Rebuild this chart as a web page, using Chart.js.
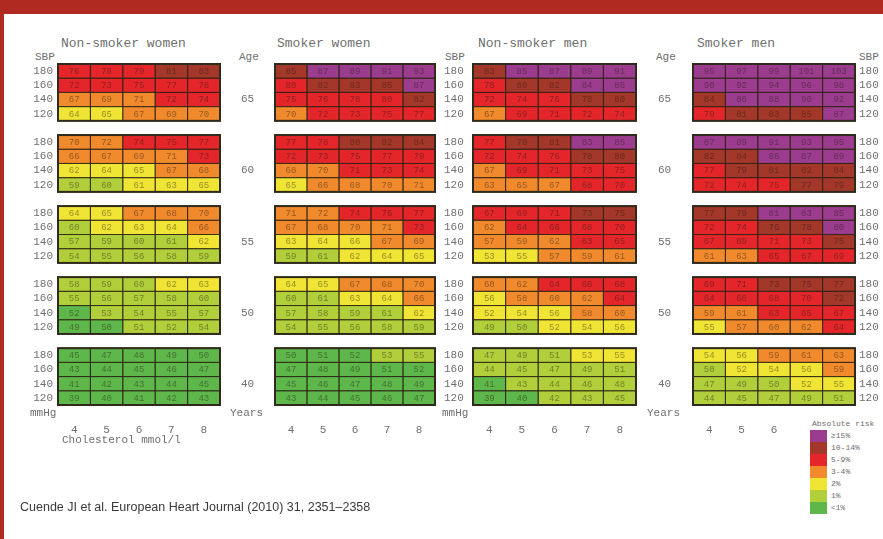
<!DOCTYPE html>
<html>
<head>
<meta charset="utf-8">
<title>Heart age chart</title>
<script src="https://cdn.jsdelivr.net/npm/chart.js@4.4.1/dist/chart.umd.min.js"></script>
<style>
  html, body { margin: 0; padding: 0; background: #fff; }
  #page { position: relative; width: 883px; height: 539px; overflow: hidden; font-family: "Liberation Mono", "DejaVu Sans Mono", monospace; color: #6e6e6e; }
  #banner { position: absolute; left: 0; top: 0; width: 883px; height: 14px; background: #b12a21; }
  #edge { position: absolute; left: 0; top: 0; width: 4px; height: 539px; background: #b12a21; }
  .box { position: absolute; top: 54px; height: 406px; }
  .txt { position: absolute; white-space: nowrap; transform: translateY(-50%); }
  .title { font-size: 13px; }
  .small { font-size: 11px; }
  #legend { position: absolute; left: 800px; top: 416px; width: 86px; height: 100px; background: #fff; }
  #legend .head { position: absolute; left: 12px; top: 3px; font-size: 8px; white-space: nowrap; }
  #legend .row { position: absolute; left: 10px; height: 12px; width: 80px; }
  #legend .sw { position: absolute; left: 0; top: 0; width: 17px; height: 12px; }
  #legend .lab { position: absolute; left: 21px; top: 1px; font-size: 8px; }
  #source { position: absolute; left: 20px; top: 500px; font: 12.5px "Liberation Sans", Arial, sans-serif; color: #3a3a3a; white-space: nowrap; }
</style>
</head>
<body>
<div id="page">
  <div id="banner"></div>
  <div id="edge"></div>

  <div class="txt title" style="left:61px;top:43px">Non-smoker women</div>
  <div class="txt title" style="left:277px;top:43px">Smoker women</div>
  <div class="txt title" style="left:478px;top:43px">Non-smoker men</div>
  <div class="txt title" style="left:697px;top:43px">Smoker men</div>

  <div class="txt small" style="left:35px;top:57px">SBP</div>
  <div class="txt small" style="left:239px;top:57px">Age</div>
  <div class="txt small" style="left:445px;top:57px">SBP</div>
  <div class="txt small" style="left:656px;top:57px">Age</div>
  <div class="txt small" style="left:859px;top:57px">SBP</div>

  <div class="box" style="left:18px;width:242px"><canvas id="p1"></canvas></div>
  <div class="box" style="left:235px;width:240px"><canvas id="p2"></canvas></div>
  <div class="box" style="left:433px;width:243px"><canvas id="p3"></canvas></div>
  <div class="box" style="left:653px;width:242px"><canvas id="p4"></canvas></div>

  <div class="txt small" style="left:30px;top:413px">mmHg</div>
  <div class="txt small" style="left:230px;top:413px">Years</div>
  <div class="txt small" style="left:442px;top:413px">mmHg</div>
  <div class="txt small" style="left:647px;top:413px">Years</div>
  <div class="txt small" style="left:62px;top:440px">Cholesterol mmol/l</div>

  <div id="legend"></div>
  <div id="source">Cuende JI et al. European Heart Journal (2010) 31, 2351–2358</div>
</div>

<script>
const cholesterol = ['4', '5', '6', '7', '8'];
const sbpLevels = ['180', '160', '140', '120'];
const ageGroups = ['65', '60', '55', '50', '40'];
const riskBands = ['≥15%', '10-14%', '5-9%', '3-4%', '2%', '1%', '<1%'];
const riskColors = ['#9b3c8e', '#a3372a', '#e4262b', '#f08a2d', '#f0e534', '#b1cf3a', '#5db74a'];

// risk band index per cell (0 = >=15% ... 6 = <1%), rows SBP 180..120, columns chol 4..8
const nonSmokerWomenRisk = [
  [[2,2,2,1,1],[2,2,2,2,2],[3,3,3,2,2],[4,4,3,3,3]],
  [[3,3,2,2,2],[3,3,3,3,2],[4,4,4,3,3],[5,5,4,4,4]],
  [[4,4,3,3,3],[5,4,4,4,3],[5,5,5,5,4],[5,5,5,5,5]],
  [[5,5,5,4,4],[5,5,5,5,5],[6,5,5,5,5],[6,6,5,5,5]],
  [[6,6,6,6,6],[6,6,6,6,6],[6,6,6,6,6],[6,6,6,6,6]]
];
const nonSmokerWomenAge = [
  [[76,78,79,81,83],[72,73,75,77,78],[67,69,71,72,74],[64,65,67,69,70]],
  [[70,72,74,75,77],[66,67,69,71,73],[62,64,65,67,68],[59,60,61,63,65]],
  [[64,65,67,68,70],[60,62,63,64,66],[57,59,60,61,62],[54,55,56,58,59]],
  [[58,59,60,62,63],[55,56,57,58,60],[52,53,54,55,57],[49,50,51,52,54]],
  [[45,47,48,49,50],[43,44,45,46,47],[41,42,43,44,45],[39,40,41,42,43]]
];

const smokerWomenRisk = [
  [[1,0,0,0,0],[2,1,1,1,0],[2,2,2,2,1],[3,2,2,2,2]],
  [[2,2,1,1,1],[2,2,2,2,2],[3,3,2,2,2],[4,3,3,3,3]],
  [[3,3,2,2,2],[3,3,3,3,2],[4,4,4,3,3],[5,5,4,4,4]],
  [[4,4,3,3,3],[5,5,4,4,3],[5,5,5,5,4],[5,5,5,5,5]],
  [[6,6,6,5,5],[6,6,6,6,6],[6,6,6,6,6],[6,6,6,6,6]]
];
const smokerWomenAge = [
  [[85,87,89,91,93],[80,82,83,85,87],[75,76,78,80,82],[70,72,73,75,77]],
  [[77,78,80,82,84],[72,73,75,77,79],[68,70,71,73,74],[65,66,68,70,71]],
  [[71,72,74,76,77],[67,68,70,71,73],[63,64,66,67,69],[59,61,62,64,65]],
  [[64,65,67,68,70],[60,61,63,64,66],[57,58,59,61,62],[54,55,56,58,59]],
  [[50,51,52,53,55],[47,48,49,51,52],[45,46,47,48,49],[43,44,45,46,47]]
];

const nonSmokerMenRisk = [
  [[1,0,0,0,0],[2,1,1,0,0],[2,2,2,1,1],[3,2,2,2,2]],
  [[2,1,1,0,0],[2,2,2,1,1],[3,2,2,2,2],[3,3,3,2,2]],
  [[2,2,2,1,1],[3,2,2,2,2],[3,3,3,2,2],[4,4,3,3,3]],
  [[3,3,2,2,2],[4,3,3,3,2],[4,4,4,3,3],[5,5,4,4,4]],
  [[5,5,5,4,4],[5,5,5,5,5],[6,5,5,5,5],[6,6,5,5,5]]
];
const nonSmokerMenAge = [
  [[83,85,87,89,91],[78,80,82,84,86],[72,74,76,78,80],[67,69,71,72,74]],
  [[77,79,81,83,85],[72,74,76,78,80],[67,69,71,73,75],[63,65,67,68,70]],
  [[67,69,71,73,75],[62,64,66,68,70],[57,59,62,63,65],[53,55,57,59,61]],
  [[60,62,64,66,68],[56,58,60,62,64],[52,54,56,58,60],[49,50,52,54,56]],
  [[47,49,51,53,55],[44,45,47,49,51],[41,43,44,46,48],[39,40,42,43,45]]
];

const smokerMenRisk = [
  [[0,0,0,0,0],[0,0,0,0,0],[1,0,0,0,0],[2,1,1,1,0]],
  [[0,0,0,0,0],[1,1,0,0,0],[2,1,1,1,1],[2,2,2,1,1]],
  [[1,1,0,0,0],[2,2,1,1,0],[2,2,2,2,1],[3,3,2,2,2]],
  [[2,2,1,1,1],[2,2,2,2,1],[3,3,2,2,2],[4,3,3,3,2]],
  [[4,4,3,3,3],[5,4,4,4,3],[5,5,5,4,4],[5,5,5,5,5]]
];
const smokerMenAge = [
  [[95,97,99,101,103],[90,92,94,96,98],[84,86,88,90,92],[79,81,83,85,87]],
  [[87,89,91,93,95],[82,84,86,87,89],[77,79,81,82,84],[72,74,75,77,79]],
  [[77,79,81,83,85],[72,74,76,78,80],[67,69,71,73,75],[61,63,65,67,69]],
  [[69,71,73,75,77],[64,66,68,70,72],[59,61,63,65,67],[55,57,60,62,64]],
  [[54,56,59,61,63],[50,52,54,56,59],[47,49,50,52,55],[44,45,47,49,51]]
];

Chart.defaults.font.family = '"Liberation Mono", monospace';
Chart.defaults.color = '#707070';

// grid lines, block outlines and heart-age numbers
const cellPlugin = {
  id: 'cells',
  afterDatasetsDraw(chart) {
    const ctx = chart.ctx;
    const xs = chart.scales.x;
    ctx.save();
    ctx.font = '9px "Liberation Mono"';
    ctx.textAlign = 'center';
    ctx.textBaseline = 'middle';
    chart.data.datasets.forEach((ds, di) => {
      chart.getDatasetMeta(di).data.forEach((bar, i) => {
        if (ds.data[i] == null) return;
        const left = Math.min(bar.x, bar.base), right = Math.max(bar.x, bar.base);
        const top = bar.y - bar.height / 2;
        ctx.strokeStyle = 'rgba(45,35,20,0.75)';
        ctx.lineWidth = 1;
        ctx.strokeRect(left, top, right - left, bar.height);
        ctx.fillStyle = 'rgba(35,25,15,0.45)';
        ctx.fillText(ds.heartAges[i], (left + right) / 2, bar.y + 0.5);
      });
    });
    const meta = chart.getDatasetMeta(0).data;
    ageGroups.forEach((a, b) => {
      const first = meta[b * 5], last = meta[b * 5 + 3];
      const top = first.y - first.height / 2;
      const bottom = last.y + last.height / 2;
      const left = xs.getPixelForValue(0), right = xs.getPixelForValue(cholesterol.length);
      ctx.strokeStyle = '#2f2a1c';
      ctx.lineWidth = 2;
      ctx.strokeRect(left, top, right - left, bottom - top);
    });
    ctx.restore();
  }
};

function fixSize(w, h) {
  return s => {
    if (w != null) s.width = w;
    if (h != null) s.height = h;
    s.paddingTop = 0; s.paddingBottom = 0; s.paddingLeft = 0; s.paddingRight = 0;
  };
}

function buildPanel(id, risk, heartAge, opts) {
  const rowLabels = [], ageLabels = [], cellRisk = [], cellAge = [];
  ageGroups.forEach((age, b) => {
    sbpLevels.forEach((s, r) => {
      rowLabels.push(s);
      ageLabels.push(r === 2 ? age : '');
      cellRisk.push(risk[b][r]);
      cellAge.push(heartAge[b][r]);
    });
    if (b < ageGroups.length - 1) {
      rowLabels.push(''); ageLabels.push(''); cellRisk.push(null); cellAge.push(null);
    }
  });

  const datasets = cholesterol.map((c, ci) => ({
    label: c,
    data: cellRisk.map(row => row ? 1 : null),
    backgroundColor: cellRisk.map(row => row ? riskColors[row[ci]] : 'transparent'),
    heartAges: cellAge.map(row => row ? row[ci] : null),
    borderWidth: 0,
    barPercentage: 1,
    categoryPercentage: 1
  }));

  const rightLabels = opts.right === 'sbp' ? rowLabels : opts.right === 'age' ? ageLabels : rowLabels.map(() => '');

  new Chart(document.getElementById(id), {
    type: 'bar',
    data: { labels: rowLabels, datasets },
    plugins: [cellPlugin],
    options: {
      indexAxis: 'y',
      responsive: true,
      maintainAspectRatio: false,
      animation: false,
      layout: { padding: { top: 10, left: 0, right: 0, bottom: 0 } },
      plugins: { legend: { display: false }, tooltip: { enabled: false } },
      scales: {
        x: { type: 'linear', stacked: true, min: 0, max: cholesterol.length, display: false },
        xc: {
          type: 'category', labels: cholesterol, position: 'bottom', offset: true,
          grid: { display: false, drawTicks: false }, border: { display: false },
          ticks: { padding: 18, font: { size: 11 } },
          afterFit: fixSize(null, 55)
        },
        y: {
          stacked: true, offset: true, position: 'left',
          grid: { display: false, drawTicks: false }, border: { display: false },
          ticks: { display: !!opts.left, autoSkip: false, padding: 5, font: { size: 11 } },
          afterFit: fixSize(40, null)
        },
        y2: {
          type: 'category', labels: rightLabels, position: 'right', offset: true,
          grid: { display: false, drawTicks: false }, border: { display: false },
          ticks: { autoSkip: false, padding: opts.rightPad || 5, font: { size: 11 } },
          afterFit: fixSize(40, null)
        }
      }
    }
  });
}

buildPanel('p1', nonSmokerWomenRisk, nonSmokerWomenAge, { left: true, right: 'age', rightPad: 21 });
buildPanel('p2', smokerWomenRisk, smokerWomenAge, { right: 'sbp', rightPad: 9 });
buildPanel('p3', nonSmokerMenRisk, nonSmokerMenAge, { right: 'age', rightPad: 22 });
buildPanel('p4', smokerMenRisk, smokerMenAge, { right: 'sbp', rightPad: 4 });

// legend
const legend = document.getElementById('legend');
const head = document.createElement('div');
head.className = 'head';
head.textContent = 'Absolute risk';
legend.appendChild(head);
riskBands.forEach((band, i) => {
  const row = document.createElement('div');
  row.className = 'row';
  row.style.top = (14 + i * 12) + 'px';
  row.innerHTML = '<div class="sw" style="background:' + riskColors[i] + '"></div><div class="lab">' + band + '</div>';
  legend.appendChild(row);
});
</script>
</body>
</html>
